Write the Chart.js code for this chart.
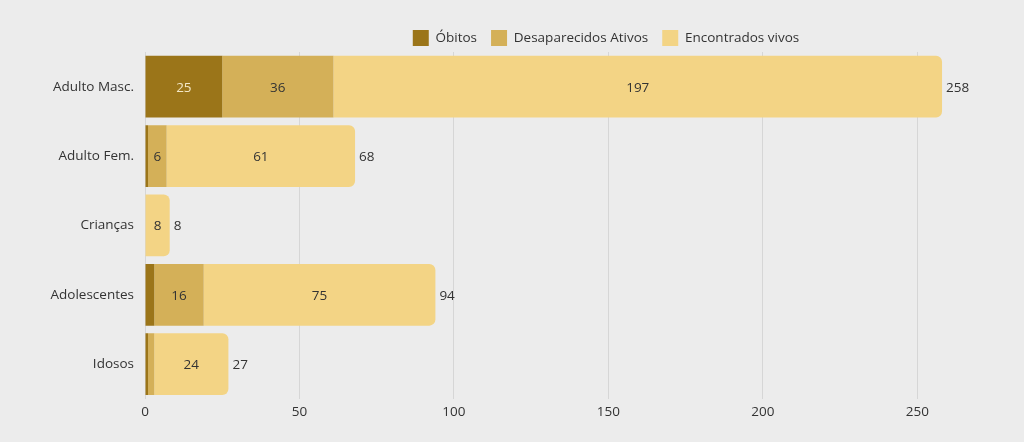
<!DOCTYPE html>
<html><head><meta charset="utf-8">
<script src="https://cdn.jsdelivr.net/npm/chart.js@4.4.0/dist/chart.umd.min.js"></script>
<style>html,body{margin:0;padding:0;background:#ececec;} #wrap{width:1024px;height:442px;position:relative;}</style>
</head><body><div id="wrap"><canvas id="c"></canvas></div>
<script>
const categories = ['Adulto Masc.','Adulto Fem.','Crianças','Adolescentes','Idosos'];
const seriesNames = ['Óbitos','Desaparecidos Ativos','Encontrados vivos'];
const obitos = [25,1,0,3,1];
const desaparecidos = [36,6,0,16,2];
const encontrados = [197,61,8,75,24];
const xTicks = [0,50,100,150,200,250];
const seriesColors = ['#9b7519','#d4b058','#f3d485'];

const FONT = "'Open Sans', sans-serif";
Chart.defaults.font.family = FONT;
Chart.defaults.font.size = 13.5;
Chart.defaults.color = '#333333';

const bgPlugin = {
  id:'bg',
  beforeDraw(chart){const c=chart.ctx;c.save();c.fillStyle='#ececec';c.fillRect(0,0,chart.width,chart.height);c.restore();}
};
const legendShift = {
  id:'legendShift',
  afterLayout(chart){
    const lg = chart.legend; if(!lg) return;
    const dx = 101, dy = 4;
    lg.left += dx; lg.right += dx;
    lg.top += dy; lg.bottom += dy;
  }
};
const labelPlugin = {
  id:'labels',
  afterDatasetsDraw(chart){
    const ctx = chart.ctx;
    ctx.save();
    ctx.font = "13.5px " + FONT;
    ctx.textBaseline = 'middle';
    const n = chart.data.labels.length;
    const ends = new Array(n).fill(null);
    const totals = new Array(n).fill(0);
    chart.data.datasets.forEach((ds, di) => {
      const meta = chart.getDatasetMeta(di);
      meta.data.forEach((el, i) => {
        const v = ds.data[i];
        totals[i] += v;
        if (v > 0) ends[i] = el.x;
        if (v >= 5) {
          ctx.textAlign = 'center';
          ctx.fillStyle = di === 0 ? '#f4e8c8' : '#333333';
          ctx.fillText(String(v), (el.x + el.base) / 2, el.y + 1);
        }
      });
    });
    const meta0 = chart.getDatasetMeta(0);
    ctx.textAlign = 'left';
    ctx.fillStyle = '#333333';
    for (let i = 0; i < n; i++) {
      ctx.fillText(String(totals[i]), ends[i] + 4, meta0.data[i].y + 1);
    }
    ctx.restore();
  }
};

const datasetValues = [obitos, desaparecidos, encontrados];
new Chart(document.getElementById('c'), {
  type:'bar',
  data:{
    labels: categories,
    datasets: datasetValues.map((vals, i) => ({
      label: seriesNames[i],
      data: vals,
      backgroundColor: seriesColors[i],
      borderWidth: 0,
      borderRadius: i === 2 ? {topLeft:0,bottomLeft:0,topRight:6,bottomRight:6} : 0,
      borderSkipped: false,
      categoryPercentage: 1.0,
      barPercentage: 0.89
    }))
  },
  options:{
    indexAxis:'y',
    responsive:true,
    maintainAspectRatio:false,
    animation:false,
    layout:{padding:{top:12,right:14,bottom:17,left:0}},
    plugins:{
      legend:{
        position:'top',
        labels:{boxWidth:16,boxHeight:16,padding:14,color:'#333333',font:{size:13.5}}
      },
      tooltip:{enabled:false}
    },
    scales:{
      x:{
        stacked:true,
        min:0, max:280,
        afterBuildTicks(scale){ scale.ticks = xTicks.map(v => ({value:v})); },
        grid:{color:'#d6d6d6',drawTicks:false},
        border:{display:false},
        ticks:{padding:5,color:'#333333'}
      },
      y:{
        stacked:true,
        afterFit(scale){ scale.width = 145; },
        grid:{display:false,drawTicks:false},
        border:{display:false},
        ticks:{padding:11,color:'#333333'}
      }
    }
  },
  plugins:[bgPlugin, legendShift, labelPlugin]
});
</script>
</body></html>
